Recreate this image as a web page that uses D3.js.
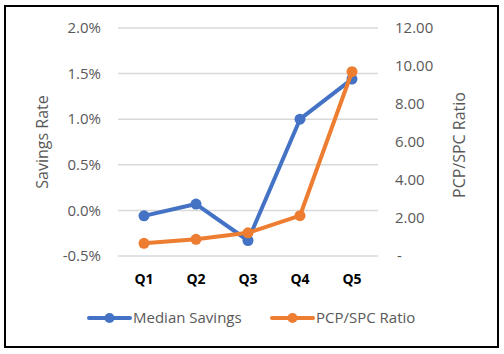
<!DOCTYPE html>
<html>
<head>
<meta charset="utf-8">
<script src="https://cdn.jsdelivr.net/npm/d3@7"></script>
<style>
  html, body { margin: 0; padding: 0; background: #fff; }
  svg { display: block; font-family: "Open Sans", "Noto Sans", sans-serif; }
</style>
</head>
<body>
<svg id="chart" width="504" height="354"></svg>
<script>
'use strict';

const quarters = ['Q1', 'Q2', 'Q3', 'Q4', 'Q5'];
const medianSavings = [-0.0006, 0.0007, -0.0033, 0.0100, 0.0144];
const pcpSpcRatio = [0.67, 0.88, 1.22, 2.12, 9.70];
const leftTicks = [-0.005, 0, 0.005, 0.01, 0.015, 0.02];
const rightTicks = [0, 2, 4, 6, 8, 10, 12];

const BLUE = '#4472C4';
const ORANGE = '#ED7D31';

const svg = d3.select('#chart');
const W = 504, H = 354;
const plot = { left: 118, right: 378, top: 28, bottom: 256 };

// outer frame
svg.append('rect')
  .attr('x', 5).attr('y', 6)
  .attr('width', W - 11).attr('height', H - 13)
  .attr('fill', '#fff').attr('stroke', '#000').attr('stroke-width', 2);

const x = d3.scalePoint().domain(quarters)
  .range([plot.left, plot.right]).padding(0.5);
const yL = d3.scaleLinear().domain([-0.005, 0.02]).range([plot.bottom, plot.top]);
const yR = d3.scaleLinear().domain([0, 12]).range([plot.bottom, plot.top]);

// gridlines
svg.append('g').selectAll('line').data(leftTicks).join('line')
  .attr('x1', plot.left).attr('x2', plot.right)
  .attr('y1', d => yL(d)).attr('y2', d => yL(d))
  .attr('stroke', '#d9d9d9').attr('stroke-width', 1.5);

const pct = d3.format('.1%');
svg.append('g').selectAll('text').data(leftTicks).join('text')
  .attr('x', 101).attr('y', d => yL(d)).attr('dy', '0.35em')
  .attr('text-anchor', 'end').attr('fill', '#595959').attr('font-size', 15)
  .text(d => pct(d).replace('−', '-'));

const ratioFmt = d => d === 0 ? '-' : d3.format('.2f')(d);
svg.append('g').selectAll('text').data(rightTicks).join('text')
  .attr('x', d => d === 0 ? 397 : 395).attr('y', d => yR(d)).attr('dy', '0.35em')
  .attr('text-anchor', 'start').attr('fill', '#595959').attr('font-size', 15)
  .text(ratioFmt);

// category labels
svg.append('g').selectAll('text').data(quarters).join('text')
  .attr('x', d => x(d)).attr('y', 279).attr('dy', '0.35em')
  .attr('text-anchor', 'middle').attr('font-weight', 'bold')
  .attr('fill', '#000').attr('font-size', 14)
  .text(d => d);

// axis titles
svg.append('text')
  .attr('transform', 'translate(42,142) rotate(-90)')
  .attr('text-anchor', 'middle').attr('dy', '0.35em')
  .attr('fill', '#595959').attr('font-size', 16)
  .text('Savings Rate');
svg.append('text')
  .attr('transform', 'translate(459,145) rotate(-90)')
  .attr('text-anchor', 'middle').attr('dy', '0.35em')
  .attr('fill', '#595959').attr('font-size', 16)
  .text('PCP/SPC Ratio');

function drawSeries(values, yScale, color) {
  const pts = quarters.map((q, i) => [x(q), yScale(values[i])]);
  svg.append('path')
    .attr('d', d3.line()(pts))
    .attr('fill', 'none').attr('stroke', color)
    .attr('stroke-width', 4).attr('stroke-linejoin', 'round');
  svg.append('g').selectAll('circle').data(pts).join('circle')
    .attr('cx', d => d[0]).attr('cy', d => d[1]).attr('r', 5.5)
    .attr('fill', color);
}

drawSeries(medianSavings, yL, BLUE);
drawSeries(pcpSpcRatio, yR, ORANGE);

// legend
const legend = [
  { label: 'Median Savings', color: BLUE, x: 89 },
  { label: 'PCP/SPC Ratio', color: ORANGE, x: 272 },
];
const lg = svg.append('g').selectAll('g').data(legend).join('g')
  .attr('transform', d => `translate(${d.x},318)`);
lg.append('line')
  .attr('x1', 0).attr('x2', 41).attr('y1', 0).attr('y2', 0)
  .attr('stroke', d => d.color).attr('stroke-width', 4).attr('stroke-linecap', 'round');
lg.append('circle').attr('cx', 20.5).attr('cy', 0).attr('r', 5).attr('fill', d => d.color);
lg.append('text')
  .attr('x', 44).attr('y', 0).attr('dy', '0.35em')
  .attr('fill', '#595959').attr('font-size', 15)
  .text(d => d.label);
</script>
</body>
</html>
